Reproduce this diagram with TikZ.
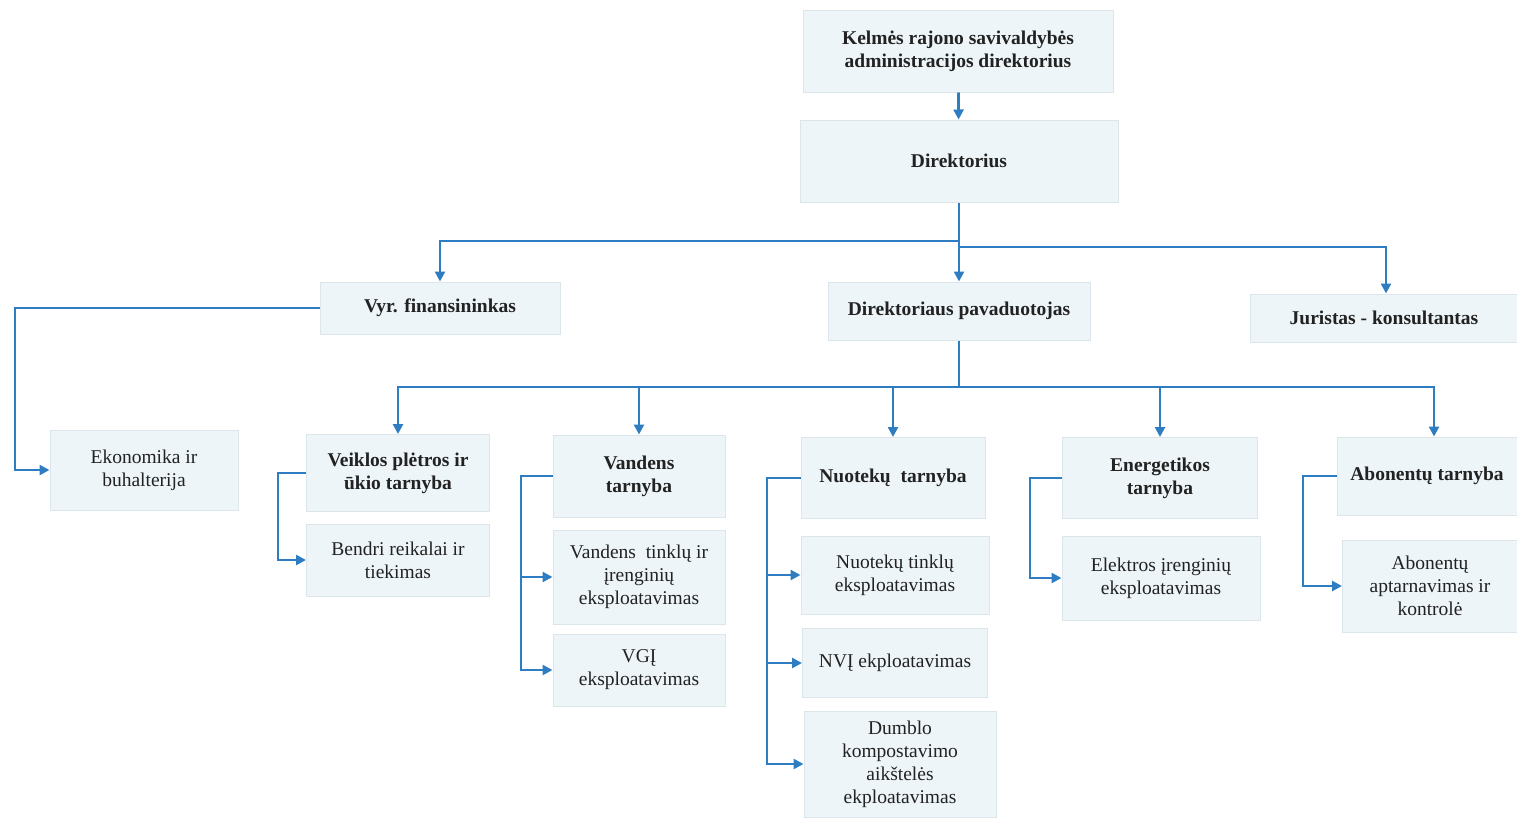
\documentclass[tikz,border=0pt]{standalone}
\usepackage{fontspec}
\setmainfont{Liberation Serif}
\usetikzlibrary{arrows.meta,calc}
\definecolor{boxfill}{HTML}{EDF5F8}
\definecolor{boxline}{HTML}{DCE6EA}
\definecolor{conn}{HTML}{2E7CC2}
\definecolor{txt}{HTML}{222222}
\begin{document}
\begin{tikzpicture}[x=1pt,y=-1pt,
  box/.style={draw=boxline,line width=1pt,fill=boxfill,inner sep=0pt,align=center,text=txt,
    font=\fontsize{19.5}{23}\selectfont},
  hbox/.style={box,font=\fontsize{19.5}{23}\selectfont\bfseries},
  arr/.style={draw=conn,line width=2.8pt,-{Triangle[length=10pt,width=10pt]}},
  ln/.style={draw=conn,line width=2.8pt}]
\useasboundingbox (0,0) rectangle (1517,817);
% level 0-1
\node[hbox,minimum width=310,minimum height=82] (top) at (958,51) {Kelmės rajono savivaldybės\\administracijos direktorius};
\node[hbox,minimum width=318,minimum height=82] (dir) at (959,161) {Direktorius};
% level 2
\node[hbox,minimum width=240,minimum height=52] (vyr) at (440,308) {Vyr. finansininkas};
\node[hbox,minimum width=262,minimum height=58] (pav) at (959,311) {Direktoriaus pavaduotojas};
\node[hbox,minimum width=267,minimum height=48] (jur) at (1384,318) {Juristas - konsultantas};
% level 3
\node[box,minimum width=188,minimum height=80] (eko) at (144,470) {Ekonomika ir\\buhalterija};
\node[hbox,minimum width=183,minimum height=77] (veik) at (398,473) {Veiklos plėtros ir\\ūkio tarnyba};
\node[box,minimum width=183,minimum height=72] (bend) at (398,560) {Bendri reikalai ir\\tiekimas};
\node[hbox,minimum width=172,minimum height=82] (vand) at (639,476) {Vandens\\tarnyba};
\node[box,minimum width=172,minimum height=94] (vtink) at (639,577) {Vandens\ \ tinklų ir\\įrenginių\\eksploatavimas};
\node[box,minimum width=172,minimum height=72] (vgi) at (639,670) {VGĮ\\eksploatavimas};
\node[hbox,minimum width=184,minimum height=81] (nuot) at (893,478) {Nuotekų\ \ tarnyba};
\node[box,minimum width=188,minimum height=78] (ntink) at (895,575) {Nuotekų tinklų\\eksploatavimas};
\node[box,minimum width=185,minimum height=69] (nvi) at (895,663) {NVĮ ekploatavimas};
\node[box,minimum width=192,minimum height=106] (dumb) at (900,764) {Dumblo\\kompostavimo\\aikštelės\\ekploatavimas};
\node[hbox,minimum width=195,minimum height=81] (energ) at (1160,478) {Energetikos\\tarnyba};
\node[box,minimum width=198,minimum height=84] (elek) at (1161,578) {Elektros įrenginių\\eksploatavimas};
\node[hbox,minimum width=180,minimum height=78] (abon) at (1427,476) {Abonentų tarnyba};
\node[box,minimum width=175,minimum height=92] (abap) at (1430,586) {Abonentų\\aptarnavimas ir\\kontrolė};
% branch points
\coordinate (b1) at (959,241);
\coordinate (b1r) at (959,247);
\coordinate (b2) at (959,387);
\coordinate (c1) at (15,308);
\coordinate (c2) at (278,473);
\coordinate (c3) at (521,476);
\coordinate (c4) at (767,478);
\coordinate (c5) at (1030,478);
\coordinate (c6) at (1303,476);
% connectors
\draw[arr] (top) -- (dir);
\draw[ln] (dir.south) -- (b1r);
\draw[arr] (b1) -| (vyr.north);
\draw[arr] (b1) -- (pav.north);
\draw[arr] (b1r) -| ($(jur.north)+(2,0)$);
\draw[ln] (pav.south) -- (b2);
\draw[arr] (b2) -| (veik.north);
\draw[arr] (b2) -| (vand.north);
\draw[arr] (b2) -| (nuot.north);
\draw[arr] (b2) -| (energ.north);
\draw[arr] (b2) -| ($(abon.north)+(7,0)$);
\draw[arr] (vyr.west) -- (c1) |- (eko.west);
\draw[arr] (veik.west) -- (c2) |- (bend.west);
\draw[arr] (vand.west) -- (c3) |- (vtink.west);
\draw[arr] (c3) |- (vgi.west);
\draw[arr] (nuot.west) -- (c4) |- (ntink.west);
\draw[arr] (c4) |- (nvi.west);
\draw[arr] (c4) |- (dumb.west);
\draw[arr] (energ.west) -- (c5) |- (elek.west);
\draw[arr] (abon.west) -- (c6) |- (abap.west);
\end{tikzpicture}
\end{document}
